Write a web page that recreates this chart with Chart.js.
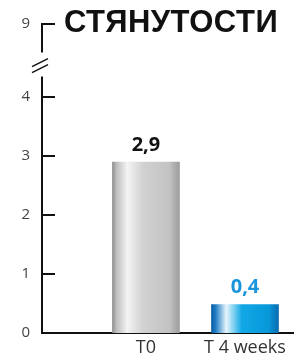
<!DOCTYPE html>
<html>
<head>
<meta charset="utf-8">
<script src="https://cdn.jsdelivr.net/npm/chart.js@4/dist/chart.umd.min.js"></script>
<style>
  html, body { margin: 0; padding: 0; background: #fff; }
  #wrap { width: 295px; height: 364px; }
</style>
</head>
<body>
<div id="wrap"><canvas id="chart" width="295" height="364"></canvas></div>
<script>
// chart data
const chartTitle = 'СТЯНУТОСТИ';
const categories = ['T0', 'T 4 weeks'];
const barValues = [2.9, 0.48];
const valueLabels = ['2,9', '0,4'];
const yTicks = [0, 1, 2, 3, 4, 9];

// broken axis: everything above 4 is squeezed
const breakAt = 4;
const squeeze = 1.24 / 5;
const toAxis = v => v <= breakAt ? v : breakAt + (v - breakAt) * squeeze;

const barWidth = 67;
const gradStops = [
  [[0, '#8f8f8f'], [0.06, '#bdbdbd'], [0.22, '#f4f4f4'], [0.45, '#d2d2d2'], [0.85, '#c2c2c2'], [1, '#9c9c9c']],
  [[0, '#0a5ea6'], [0.06, '#1f7cc2'], [0.22, '#e6f6fd'], [0.45, '#12a8e6'], [0.85, '#0898da'], [1, '#0a6cb0']]
];
const labelColors = ['#111111', '#1a95dc'];

function barGradient(c) {
  const chart = c.chart;
  const xs = chart.scales.x;
  if (!xs || !chart.chartArea) return '#cccccc';
  const cx = xs.getPixelForValue(c.dataIndex + 1);
  const g = chart.ctx.createLinearGradient(cx - barWidth / 2, 0, cx + barWidth / 2, 0);
  gradStops[c.dataIndex].forEach(s => g.addColorStop(s[0], s[1]));
  return g;
}

const decorPlugin = {
  id: 'decor',
  afterDatasetsDraw(chart) {
    const ctx = chart.ctx;
    ctx.save();
    ctx.font = 'bold 20px "Open Sans"';
    ctx.textAlign = 'center';
    ctx.textBaseline = 'bottom';
    chart.getDatasetMeta(0).data.forEach((bar, i) => {
      ctx.fillStyle = labelColors[i];
      ctx.fillText(valueLabels[i], bar.x, bar.y - 7);
    });
    ctx.restore();
  },
  afterDraw(chart) {
    const ctx = chart.ctx;
    const y = chart.scales.y;
    const area = chart.chartArea;
    const x0 = area.left;
    ctx.save();
    ctx.strokeStyle = '#111';
    ctx.lineWidth = 2;
    // tick marks pointing into the plot
    yTicks.forEach(v => {
      const py = Math.round(y.getPixelForValue(toAxis(v)));
      ctx.beginPath();
      ctx.moveTo(x0 - 1, py);
      ctx.lineTo(x0 + 13, py);
      ctx.stroke();
    });
    // y axis line with a break
    const pTop = y.getPixelForValue(toAxis(9));
    const p4 = y.getPixelForValue(toAxis(4));
    const mid = (pTop + p4) / 2 + 4;
    ctx.beginPath();
    ctx.moveTo(x0, area.bottom);
    ctx.lineTo(x0, mid + 12);
    ctx.moveTo(x0, mid - 12);
    ctx.lineTo(x0, pTop - 1);
    ctx.stroke();
    ctx.lineWidth = 1.5;
    ctx.beginPath();
    ctx.moveTo(x0 - 10, mid + 2);
    ctx.lineTo(x0 + 6, mid - 6);
    ctx.moveTo(x0 - 10, mid + 8);
    ctx.lineTo(x0 + 6, mid);
    ctx.stroke();
    // title
    ctx.fillStyle = '#111';
    ctx.font = 'bold 31px "Liberation Sans"';
    ctx.letterSpacing = '0.5px';
    ctx.textAlign = 'left';
    ctx.textBaseline = 'alphabetic';
    ctx.fillText(chartTitle, 64, 32);
    ctx.restore();
  }
};

new Chart(document.getElementById('chart').getContext('2d'), {
  type: 'bar',
  data: {
    datasets: [{
      data: barValues.map((v, i) => ({ x: i + 1, y: v })),
      backgroundColor: barGradient,
      barThickness: barWidth,
      borderWidth: 0
    }]
  },
  options: {
    responsive: false,
    animation: false,
    layout: { padding: { top: 24, right: 2, left: 0, bottom: 0 } },
    plugins: {
      legend: { display: false },
      tooltip: { enabled: false }
    },
    scales: {
      x: {
        type: 'linear',
        offset: false,
        min: -0.05,
        max: 2.485,
        afterBuildTicks: s => { s.ticks = categories.map((c, i) => ({ value: i + 1 })); },
        afterFit: s => { s.height = 31; },
        grid: { display: false, drawTicks: false, offset: false },
        border: { display: true, color: '#111', width: 2 },
        ticks: {
          padding: 4,
          color: '#333',
          font: { family: 'Open Sans', size: 18 },
          callback: (v, i) => categories[i]
        }
      },
      y: {
        min: 0,
        max: toAxis(9),
        afterBuildTicks: s => { s.ticks = yTicks.map(v => ({ value: toAxis(v) })); },
        afterFit: s => { s.width = 42; },
        grid: { display: false, drawTicks: false },
        border: { display: false },
        ticks: {
          padding: 12,
          color: '#444',
          font: { family: 'Open Sans', size: 15 },
          callback: (v, i) => String(yTicks[i])
        }
      }
    }
  },
  plugins: [decorPlugin]
});
</script>
</body>
</html>
